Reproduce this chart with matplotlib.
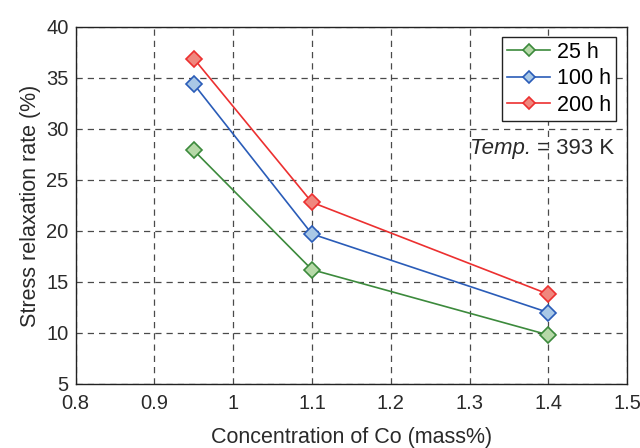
import matplotlib
matplotlib.use("Agg")
import matplotlib.pyplot as plt

plt.rcParams['font.family'] = ['Liberation Sans', 'DejaVu Sans']

# concentration of Co (mass%)
conc = [0.95, 1.1, 1.4]
# stress relaxation rate (%) per aging time
rate_25h = [27.9, 16.2, 9.8]
rate_100h = [34.4, 19.7, 12.0]
rate_200h = [36.9, 22.8, 13.8]
labels = ['25 h', '100 h', '200 h']

fig = plt.figure(figsize=(6.4, 4.48), dpi=100)
ax = fig.add_axes([0.118, 0.143, 0.862, 0.797])

# line colour, marker fill
styles = [('#3c8a3c', '#b6d9a8'), ('#2a5cb8', '#a9c8e6'), ('#ec3030', '#f0877e')]
for vals, lab, (lc, fc) in zip([rate_25h, rate_100h, rate_200h], labels, styles):
    ax.plot(conc, vals, color=lc, lw=1.2, marker='D', ms=8.5, mfc=fc, mec=lc, mew=1.2, label=lab)

ax.set_xlim(0.8, 1.5)
ax.set_ylim(5, 40)
ax.set_xticks([0.8, 0.9, 1.0, 1.1, 1.2, 1.3, 1.4, 1.5])
ax.set_xticklabels(['0.8', '0.9', '1', '1.1', '1.2', '1.3', '1.4', '1.5'])
ax.set_yticks(range(5, 41, 5))
ax.grid(True, ls=(0, (5, 4)), color='#4a4a4a', lw=0.9)
ax.tick_params(length=0, labelsize=14.5, colors='#2a2a2a')
ax.tick_params(axis='x', pad=7)
ax.tick_params(axis='y', pad=5)
for s in ax.spines.values():
    s.set_linewidth(1.0)
    s.set_color('#222222')

ax.set_xlabel('Concentration of Co (mass%)', fontsize=15.5, labelpad=10, color='#2a2a2a')
ax.set_ylabel('Stress relaxation rate (%)', fontsize=15.5, labelpad=4, color='#2a2a2a')

leg = ax.legend(loc='upper right', fontsize=15.5, fancybox=False, framealpha=1,
                edgecolor='#222222', handlelength=2.0, borderpad=0.25, labelspacing=0.25,
                handletextpad=0.3, markerscale=0.7, bbox_to_anchor=(0.988, 0.985),
                borderaxespad=0.2)
leg.get_frame().set_linewidth(1.0)

# temperature note: italic "Temp." followed by upright value
t = ax.text(1.483, 28.1, '= 393 K', fontsize=16, ha='right', va='center', color='#2a2a2a')
ax.annotate('Temp. ', xy=(0, 0), xycoords=t, ha='right', va='bottom', fontsize=16,
            style='italic', color='#2a2a2a')

fig.savefig('out.png', dpi=100)
